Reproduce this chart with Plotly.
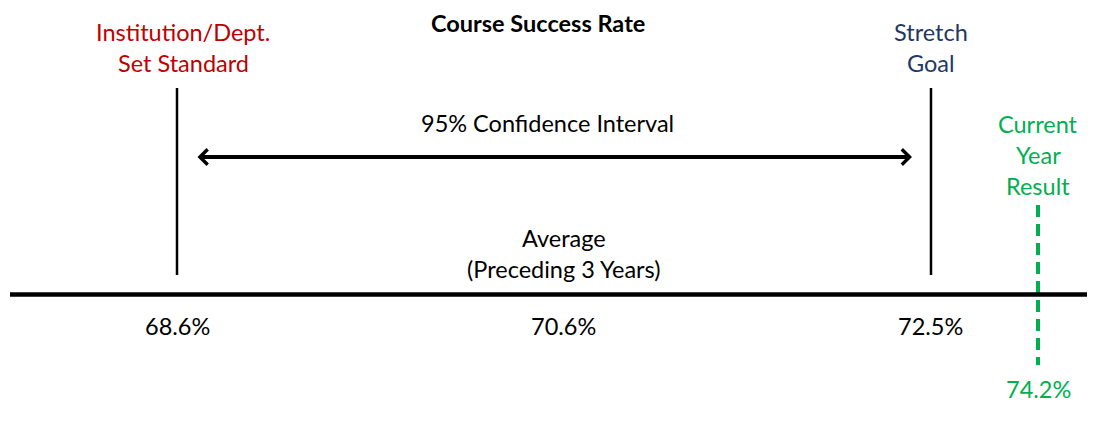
import plotly.graph_objects as go

# ---- data ----
marker_names = ["Institution/Dept. Set Standard", "Average (Preceding 3 Years)", "Stretch Goal", "Current Year Result"]
marker_values = [68.6, 70.6, 72.5, 74.2]
label_lines = [["Institution/Dept.", "Set Standard"], ["Average", "(Preceding 3 Years)"], ["Stretch", "Goal"], ["Current", "Year", "Result"]]
value_labels = ["68.6%", "70.6%", "72.5%", "74.2%"]
title_text = "Course Success Rate"
ci_text = "95% Confidence Interval"

# ---- style ----
RED = "#C00000"
NAVY = "#1F3864"
GREEN = "#00B050"
BLACK = "#000000"
FONT = "Lato"
W, H = 1096, 423
XMIN, XMAX = 67.6845, 73.3535  # axis range in percent
PX_PER_UNIT = W / (XMAX - XMIN)
TS = 23.5

std, avg, goal, cur = marker_values
# the current-year result is off the scale: pin it near the right end of the axis
cur_plot = min(cur, XMAX - 0.30)

fig = go.Figure()

# horizontal axis line
fig.add_shape(type="line", xref="paper", yref="y", x0=10 / W, x1=1087 / W, y0=294.5, y1=294.5,
              line=dict(color=BLACK, width=4.5))

# vertical lines for set standard and stretch goal
for v in (std, goal):
    fig.add_trace(go.Scatter(x=[v, v], y=[88, 275], mode="lines",
                             line=dict(color=BLACK, width=2.5), hoverinfo="skip", showlegend=False))

# current year dashed marker
fig.add_trace(go.Scatter(x=[cur_plot, cur_plot], y=[205, 365], mode="lines",
                         line=dict(color=GREEN, width=4, dash="12px,7px"),
                         hoverinfo="skip", showlegend=False))

# double-headed arrow for confidence interval
gap = 19 / PX_PER_UNIT
fig.add_annotation(x=goal - gap, y=157, ax=std + gap, ay=157, xref="x", yref="y", axref="x", ayref="y",
                   text="", showarrow=True, arrowhead=4, startarrowhead=4, arrowside="end+start",
                   arrowsize=0.75, startarrowsize=0.75, arrowwidth=4, arrowcolor=BLACK)

def add_lines(lines, x, y0, step, color, size=TS, xshift=0):
    for i, t in enumerate(lines):
        fig.add_annotation(x=x, y=y0 + i * step, xref="x", yref="y", text=t, showarrow=False,
                           font=dict(family=FONT, size=size, color=color), xanchor="center",
                           yanchor="middle", xshift=xshift)

# title and CI text
fig.add_annotation(x=538 / W, y=23, xref="paper", yref="y", text="<b>" + title_text + "</b>", showarrow=False,
                   font=dict(family=FONT, size=23.5, color=BLACK), xanchor="center", yanchor="middle")
add_lines([ci_text], (std + goal) / 2, 123, 31, BLACK, xshift=-6)

# marker labels
add_lines(label_lines[0], std, 32, 31, RED, xshift=6)
add_lines(label_lines[1], avg, 238, 31, BLACK)
add_lines(label_lines[2], goal, 32, 31, NAVY)
add_lines(label_lines[3], cur_plot, 124, 31, GREEN)

# value labels
for v, t in zip([std, avg, goal], value_labels[:3]):
    add_lines([t], v, 326, 31, BLACK)
add_lines([value_labels[3]], cur_plot, 389, 31, GREEN)

fig.update_layout(
    width=W, height=H, margin=dict(l=0, r=0, t=0, b=0),
    paper_bgcolor="white", plot_bgcolor="white",
    xaxis=dict(range=[XMIN, XMAX], visible=False, fixedrange=True),
    yaxis=dict(range=[H, 0], visible=False, fixedrange=True),
    showlegend=False,
)

fig.write_html("out.html", config={"displayModeBar": False, "staticPlot": True},
               post_script="document.body.style.margin='0';document.body.style.overflow='hidden';")
